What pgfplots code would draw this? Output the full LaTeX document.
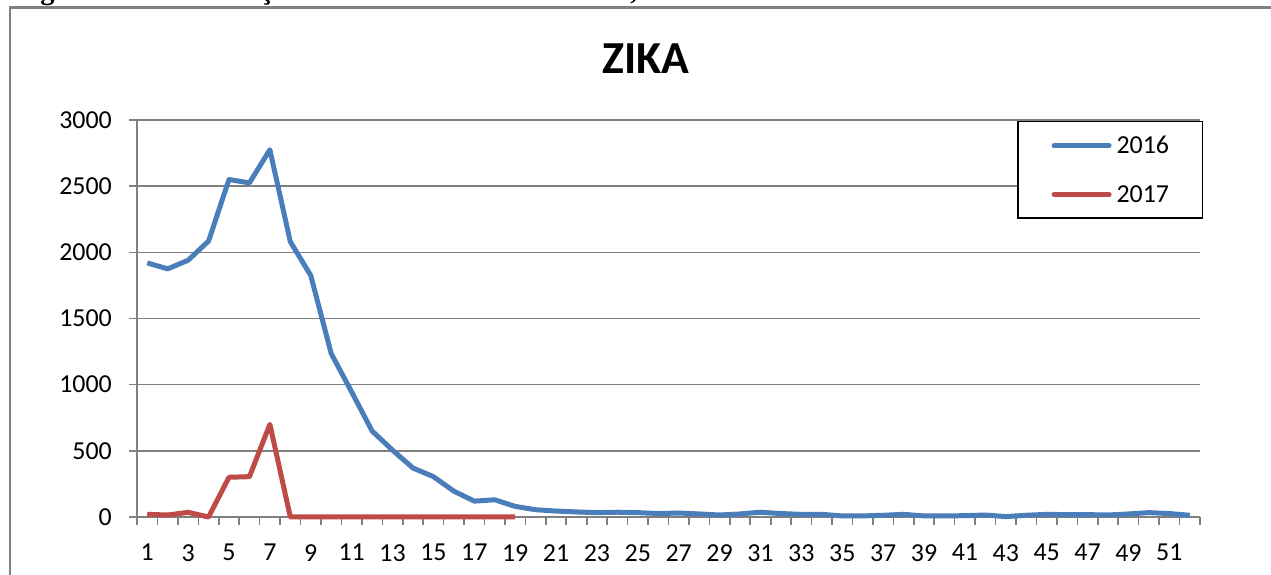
\documentclass[border=0pt]{standalone}
\usepackage{fontspec}
\setmainfont{Carlito}
\newfontfamily\capfont{Liberation Serif}
\usepackage{pgfplots}
\pgfplotsset{compat=1.18}
\definecolor{blue16}{HTML}{4A7EBB}
\definecolor{red17}{HTML}{BE4B48}
\definecolor{gridgray}{HTML}{808080}
\begin{document}
\begin{tikzpicture}[x=1bp,y=1bp]
\useasboundingbox (0,0) rectangle (1271,575);
\node[anchor=base west, inner sep=0pt, font=\capfont\bfseries\fontsize{28.5}{28.5}\selectfont] at (15,575.5) {Figura 6 -- Distribuição Semanal dos casos de Zika, Mato Grosso 2016 e 2017.};
\draw[gridgray, line width=2.5bp] (10,-20) -- (10,567.5) -- (1300,567.5);
\node[anchor=base, inner sep=0pt, font=\bfseries\fontsize{46}{46}\selectfont] at (646,501.7) {ZIKA};
\begin{axis}[
  at={(137bp,58bp)}, anchor=south west,
  scale only axis, width=1063bp, height=397bp,
  xmin=0.5, xmax=52.5, ymin=0, ymax=3000,
  clip=false,
  axis lines*=left,
  axis line style={draw=gridgray, line width=1.6bp},
  ymajorgrids, grid style={draw=gridgray, line width=1.6bp},
  xtick={1,3,...,51},
  minor xtick={0.5,1.5,...,52.5},
  ytick={0,500,...,3000},
  tick align=outside,
  major tick length=8bp, minor tick length=8bp,
  major x tick style={draw=none},
  tick style={draw=gridgray, line width=1.6bp},
  scaled y ticks=false,
  /pgf/number format/1000 sep={},
  /pgf/number format/assume math mode=true,
  tick label style={font=\fontsize{26}{26}\selectfont, inner sep=0pt},
  yticklabel shift=17bp,
  xticklabel shift=19bp,
  legend style={at={(1.003,0.997)}, anchor=north east, draw=black, line width=1.2bp, fill=white,
    inner xsep=33.5bp, inner ysep=14.5bp, row sep=30bp,
    font=\fontsize{26}{26}\selectfont, nodes={inner sep=0pt},
    /tikz/every odd column/.append style={column sep=5bp}},
  legend image code/.code={\draw[#1, line cap=round] (0bp,0bp) -- (55bp,0bp);},
  legend cell align=left,
]
\addplot[blue16, line width=5bp, line join=round] coordinates {
(1,1920) (2,1875) (3,1940) (4,2085) (5,2550) (6,2525) (7,2775) (8,2080) (9,1825) (10,1235)
(11,945) (12,650) (13,505) (14,370) (15,305) (16,195) (17,120) (18,130) (19,80) (20,55)
(21,45) (22,38) (23,33) (24,36) (25,33) (26,26) (27,30) (28,23) (29,15) (30,23)
(31,36) (32,26) (33,20) (34,20) (35,8) (36,8) (37,13) (38,20) (39,8) (40,8)
(41,10) (42,15) (43,3) (44,13) (45,20) (46,18) (47,18) (48,15) (49,23) (50,33)
(51,26) (52,13)};
\addlegendentry{2016}
\addplot[red17, line width=5bp, line join=round] coordinates {
(1,20) (2,15) (3,35) (4,0) (5,300) (6,305) (7,700) (8,0) (9,0) (10,0)
(11,0) (12,0) (13,0) (14,0) (15,0) (16,0) (17,0) (18,0) (19,0)};
\addlegendentry{2017}
\end{axis}
\end{tikzpicture}
\end{document}
